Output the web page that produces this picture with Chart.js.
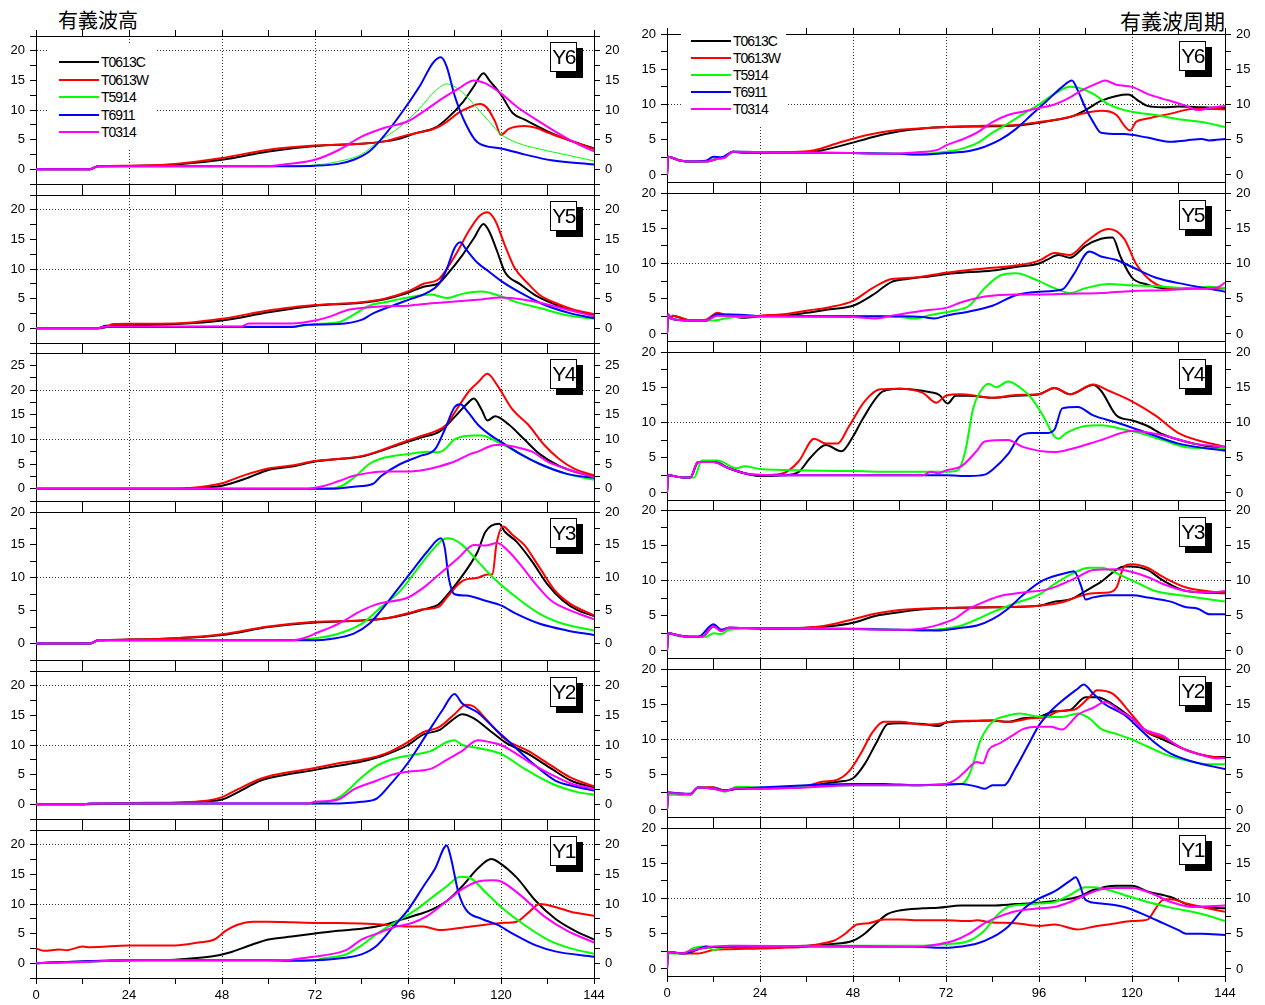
<!DOCTYPE html>
<html>
<head>
<meta charset="utf-8">
<script src="https://cdn.jsdelivr.net/npm/chart.js@4.4.1/dist/chart.umd.min.js"></script>
<style>
  body { margin: 0; background: #fff; width: 1265px; height: 1005px; position: relative; overflow: hidden;
         font-family: "Liberation Sans", Arial, sans-serif; }
  canvas { position: absolute; }
  .title { position: absolute; top: 8px; font-family: "Noto Sans CJK JP", sans-serif; font-size: 20px; line-height: 24px; color: #000; }
  .legend { position: absolute; background: #fff; }
  .legend .ln { position: absolute; height: 2px; width: 40px; }
  .legend .tx { position: absolute; font-size: 14px; letter-spacing: -1px; line-height: 16px; color: #000; }
  .tag { position: absolute; box-sizing: border-box; width: 27px; height: 30px; border: 1px solid #000; background: #fff;
         box-shadow: 6px 6px 0 #000; font-size: 21px; letter-spacing: -1.5px; line-height: 28px; text-align: center; color: #000; }
</style>
</head>
<body>
<div class="title" style="left:58px">有義波高</div>
<div class="title" style="right:40px;font-size:21px">有義波周期</div>
<script>
const seriesNames = ['T0613C', 'T0613W', 'T5914', 'T6911', 'T0314'];
const seriesColors = ['#000000', '#ff0000', '#00ff00', '#0000ff', '#ff00ff'];
const panelTags = ['Y6', 'Y5', 'Y4', 'Y3', 'Y2', 'Y1'];

// significant wave height [hour, m]
const hY6_C = [[0,0],[14,0],[16,0.5],[24,0.55],[36,0.8],[48,1.6],[60,3.0],[72,3.9],[84,4.3],[90,4.7],[94,5.2],[98,6.1],[103,7.0],[106,8.5],[110,11.2],[113,14],[115.5,16.2],[117,15],[120,12.6],[123,9.5],[126,8.4],[132,6.4],[138,4.8],[144,3.5]];
const hY6_W = [[0,0],[14,0],[16,0.5],[24,0.6],[36,0.9],[48,1.9],[60,3.3],[72,4.0],[84,4.3],[90,4.7],[96,5.8],[103,6.9],[106,8.0],[109,9.5],[112,10.5],[114.5,11.0],[116.5,10.3],[118.5,8.0],[120,5.8],[122,6.8],[126,7.3],[129,7.0],[132,6.2],[138,4.8],[144,3.4]];
const hY6_5914 = [[0,0],[14,0],[16,0.5],[36,0.5],[60,0.5],[72,0.7],[78,1.3],[84,2.5],[88,4.5],[94,7.2],[99,10.3],[103,13.2],[106,14.4],[110,13.0],[114,10.2],[117,8.0],[120,5.9],[124,4.5],[130,3.4],[137,2.4],[144,1.4]];
const hY6_6911 = [[0,0],[14,0],[16,0.5],[60,0.5],[72,0.6],[78,0.9],[82,1.6],[86,3.0],[89,5.0],[94,9.2],[99,14],[102.5,18],[104.5,18.9],[106,17.3],[108,12.5],[111,7.5],[114,4.5],[120,3.5],[126,2.5],[133,1.5],[144,0.8]];
const hY6_0314 = [[0,0],[14,0],[16,0.5],[60,0.5],[64,0.8],[72,1.6],[78,3.2],[84,5.5],[90,7.0],[96,8.1],[101,10.2],[105,12.0],[109,13.6],[113,15.0],[116,14.5],[120,12.8],[124,10.6],[130,8.0],[136,5.6],[140,4.2],[144,3.0]];

const hY5_C = [[0,0],[16,0],[18,0.4],[24,0.5],[36,0.7],[48,1.3],[60,2.7],[66,3.3],[72,3.8],[84,4.3],[90,4.9],[96,6.0],[100,7.0],[104,7.6],[106,9.0],[110,12.3],[113,15.2],[115.5,17.6],[117,16.3],[119,13],[121,9.5],[125,7.4],[129,5.5],[134,4.0],[138,3.1],[144,2.2]];
const hY5_W = [[0,0],[17,0],[20,0.7],[24,0.75],[36,0.8],[48,1.6],[60,3.0],[66,3.5],[72,3.9],[84,4.4],[90,5.0],[96,6.2],[100,7.5],[104,8.3],[106,10],[109,13.2],[111.5,16.2],[114.5,19.0],[116.5,19.6],[118.5,18.2],[121,14],[123.5,10.2],[127,7.5],[130,5.6],[135,4.0],[139,3.1],[144,2.4]];
const hY5_5914 = [[0,0],[16,0],[18,0.2],[66,0.3],[72,0.7],[78,1.0],[82,2.3],[86,3.8],[90,4.4],[96,5.2],[100,5.6],[102,5.7],[106,5.1],[110,5.8],[115,6.2],[120,5.4],[124,4.4],[130,3.4],[137,2.2],[144,1.6]];
const hY5_6911 = [[0,0],[16,0],[18,0.2],[66,0.2],[70,0.6],[78,0.7],[84,1.4],[87,2.5],[92,3.8],[97,5.0],[101,6.0],[104,7.5],[106,10],[108,13.5],[109.5,14.5],[111,13.3],[114,11],[117,9.5],[120,8.0],[125,6.0],[131,4.0],[138,2.5],[144,1.7]];
const hY5_0314 = [[0,0],[16,0],[18,0.3],[53,0.3],[55,0.8],[66,0.8],[72,1.3],[76,2.0],[80,3.0],[84,3.4],[90,3.7],[96,3.8],[102,4.2],[110,4.6],[114,4.8],[120,5.2],[126,4.8],[132,4.0],[138,3.0],[144,2.0]];

const hY4_C = [[0,0],[36,0],[44,0.3],[48,0.6],[54,2.0],[60,3.8],[66,4.5],[72,5.5],[78,6.0],[84,6.5],[88,7.4],[94,9.0],[100,10.5],[104,11.5],[108,14.5],[111,17.0],[113,18.3],[115,16.0],[116.5,13.8],[118.5,14.7],[122,13.0],[126,10.0],[130,7.0],[135,4.6],[140,3.2],[144,2.5]];
const hY4_W = [[0,0],[36,0],[42,0.3],[48,1.1],[54,2.8],[60,4.1],[66,4.7],[72,5.6],[78,6.0],[84,6.6],[88,7.5],[94,9.2],[99,10.6],[103,11.6],[106,13],[108.5,16],[112,20],[114,21.5],[116.5,23.3],[119,21],[123,16],[127,13],[131,9],[135,6],[139,4],[144,2.7]];
const hY4_5914 = [[0,0],[72,0],[78,0.3],[82,2.2],[86,5.0],[90,6.3],[96,7.0],[101,7.5],[104,7.4],[105.5,8.0],[108,10],[113,10.8],[115,10.8],[119,9.5],[124,7.5],[130,5.0],[137,3.0],[144,1.8]];
const hY4_6911 = [[0,0],[76,0],[82,0.4],[87,1.0],[89,2.5],[94,5.0],[99,6.6],[103,8.0],[105.5,12],[108,16.5],[109.5,17.1],[111.5,15.5],[114,13],[117,11],[121,9],[125,7],[130,5],[137,3],[144,2.2]];
const hY4_0314 = [[0,0],[70,0],[74,0.5],[78,1.5],[82,2.6],[86,3.2],[90,3.5],[96,3.5],[100,3.8],[104,4.5],[108,5.5],[112,7.0],[114,7.5],[118,8.8],[120,8.9],[124,8.4],[128,7.5],[132,5.5],[137,4.0],[144,2.3]];

const hY3_C = [[0,0],[14,0],[16,0.5],[24,0.6],[36,0.8],[48,1.3],[60,2.5],[72,3.2],[84,3.5],[90,3.8],[96,4.5],[100,5.2],[104,6.0],[106,7.3],[109,9.5],[112,12],[114,14],[116,17],[119.5,18.2],[121,17],[124,15.5],[128,12.5],[132,9],[136,6.5],[140,5],[144,4.2]];
const hY3_W = [[0,0],[14,0],[16,0.5],[24,0.6],[36,0.8],[48,1.4],[60,2.6],[72,3.3],[84,3.5],[90,3.8],[96,4.6],[100,5.2],[104,5.6],[106,7.0],[110,9.5],[114,10.0],[116.5,10.5],[117.8,10.5],[118.8,15],[120.5,17.8],[123,16.5],[126,15],[130,11.5],[134,8],[138,6],[144,4.3]];
const hY3_5914 = [[0,0],[14,0],[16,0.5],[66,0.5],[72,0.8],[78,1.5],[84,3],[89,5.5],[94,8],[98,11],[102,14],[105,15.8],[106.5,16],[110,15],[114,12.5],[118,10],[124,7],[130,4.5],[136,3],[144,2]];
const hY3_6911 = [[0,0],[14,0],[16,0.5],[72,0.5],[76,0.7],[82,1.5],[86,3],[89,5],[93,8],[97,11],[101,14],[104.5,16],[105.5,14.5],[106.5,10],[108,7.5],[111,7.3],[116,6.5],[120,5.8],[124,4.5],[130,3],[137,2],[144,1.3]];
const hY3_0314 = [[0,0],[14,0],[16,0.5],[66,0.5],[70,1.0],[72,1.5],[78,3],[84,5],[88,6],[96,7],[100,8.5],[104,10.5],[109,13],[113,15],[116,14.9],[119,15.3],[122,14],[125,12],[129,9],[133,6.5],[138,5],[144,3.7]];

const hY2_C = [[0,0],[12,0],[24,0.1],[36,0.2],[44,0.5],[48,0.8],[52,2.0],[58,4.0],[63,4.8],[72,5.8],[78,6.5],[84,7.2],[90,8.3],[96,10],[100,11.8],[104,12.5],[107,14],[110,15.2],[113,14.5],[117,12.5],[121,10.5],[127,8.5],[133,6],[138,4],[144,2.8]];
const hY2_W = [[0,0],[12,0],[24,0.2],[36,0.3],[44,0.6],[48,1.2],[52,2.5],[58,4.3],[62,5.0],[72,6.1],[78,6.9],[84,7.5],[90,8.5],[96,10.5],[100,12.2],[104,13],[108,15.2],[111,16.8],[113,16.5],[116,14.5],[121,11],[127,9],[133,6.5],[138,4.5],[144,3]];
const hY2_5914 = [[0,0],[12,0],[14,0.1],[72,0.1],[76,0.5],[79,1.5],[84,4.5],[88,6.5],[93,7.8],[97,8.3],[102,9],[106,10.5],[108,10.8],[110,10],[114,9.5],[120,8.5],[126,6],[133,3.5],[140,2],[144,1.6]];
const hY2_6911 = [[0,0],[12,0],[14,0.1],[76,0.1],[84,0.4],[88,1.0],[91,3],[96,7],[101,12],[105,16],[108,18.6],[110,17],[114,15.5],[118,13],[123,10],[128,7],[134,4],[139,3],[144,2.3]];
const hY2_0314 = [[0,0],[12,0],[14,0.1],[70,0.1],[72,0.4],[78,0.8],[82,2.5],[88,4],[92,5],[96,5.5],[102,6],[106,7.5],[110,9],[114,10.8],[117,10.5],[120,10],[124,8.5],[128,6.8],[133,5],[138,3.5],[144,2.6]];

const hY1_C = [[0,0],[12,0.3],[24,0.5],[36,0.6],[40,0.8],[46,1.2],[50,1.8],[56,3.2],[60,4],[66,4.5],[72,5],[78,5.5],[84,5.8],[90,6.5],[95,7.5],[99,8.3],[102,9],[106,10.5],[110,13],[114,16],[117.5,17.6],[119.5,17],[124,14.5],[129,10.5],[134,7.5],[139,5.5],[144,4]];
const hY1_W = [[0,2.5],[2,2.1],[6,2.3],[8,2.2],[12,2.8],[14,2.7],[24,3],[36,3],[42,3.5],[46,4],[49,5.5],[52,6.5],[56,7],[60,7],[66,6.9],[72,6.8],[78,6.8],[84,6.7],[90,6.5],[96,6.2],[100,6.2],[104,5.6],[110,6],[116,6.5],[120,6.8],[124,7],[127,8.5],[130,10],[134,9.5],[138,8.7],[144,8]];
const hY1_5914 = [[0,0],[12,0.2],[24,0.5],[72,0.5],[74,0.8],[80,1.5],[84,3],[88,5],[93,7],[98,9],[102,11],[106,13],[109.5,14.6],[112,14.4],[116,12],[120,9.5],[126,6.5],[132,4],[138,2.5],[144,1.6]];
const hY1_6911 = [[0,0],[12,0.3],[24,0.5],[60,0.5],[66,0.4],[72,0.5],[78,0.8],[84,1.5],[88,3],[92,6],[96,9],[100,13],[103,16],[106,19.9],[107,18],[109,12],[111,9],[115,7.5],[119,6.5],[123,5],[129,3],[134,2],[144,1.1]];
const hY1_0314 = [[0,0],[12,0.2],[24,0.5],[64,0.5],[68,0.8],[74,1.3],[80,2.2],[84,4],[88,5],[92,6],[97,6.8],[101,8],[106,10.5],[110,12.5],[114,13.8],[118,14],[120,13.8],[125,11.5],[131,8],[137,5.5],[144,3.5]];

// significant wave period [hour, s]
const tY6_C = [[0,0],[0.3,2.6],[3,2.1],[6,1.9],[10,1.9],[13,2.3],[15,2.5],[17,3.3],[20,3.2],[36,3.2],[40,3.5],[46,4.3],[54,5.5],[60,6.2],[66,6.6],[72,6.8],[84,6.9],[90,7.0],[96,7.4],[100,7.8],[104,8.2],[108,9.2],[112,10.5],[116,11.2],[119,11.4],[122,10.4],[124,9.8],[128,9.6],[132,9.7],[138,9.6],[144,9.5]];
const tY6_W = [[0,0],[0.3,2.6],[3,2.1],[6,1.9],[10,1.9],[13,2.3],[15,2.5],[17,3.3],[20,3.1],[30,3.2],[38,3.5],[44,4.5],[52,5.7],[60,6.4],[72,6.8],[84,7.0],[90,7.1],[96,7.5],[102,8.0],[108,8.8],[112,9.1],[116,8.5],[118,7.0],[119.5,6.3],[121,7.5],[124,8.0],[130,8.7],[136,9.4],[144,9.3]];
const tY6_5914 = [[0,0],[0.3,2.6],[3,2.1],[6,1.9],[10,1.9],[12,2.2],[14.5,2.4],[17,3.3],[30,3.2],[48,3.1],[60,3.0],[64,2.9],[72,3.3],[76,3.7],[80,4.5],[84,6.0],[88,7.3],[92,8.7],[96,10],[100,11.5],[104,12.5],[106,12.4],[110,11.5],[114,10],[118,9.2],[122,8.8],[126,8.5],[132,7.9],[138,7.5],[144,6.8]];
const tY6_6911 = [[0,0],[0.3,2.6],[3,2.1],[6,1.9],[10,2.0],[12,2.6],[14,2.5],[17,3.3],[30,3.2],[48,3.1],[60,3.0],[66,2.9],[72,3.1],[78,3.4],[82,4.0],[86,5.0],[90,6.5],[94,8.5],[98,10.5],[102,12.5],[104.5,13.4],[106,12],[108,9.5],[110,7.5],[112,6.0],[118,5.8],[124,5.3],[130,4.7],[134,4.9],[138,5.1],[140,4.9],[144,5.1]];
const tY6_0314 = [[0,0],[0.3,2.6],[3,2.1],[6,1.9],[10,1.9],[13,2.3],[15,2.5],[17,3.3],[30,3.2],[48,3.1],[56,3.0],[64,3.2],[70,3.6],[72,4.2],[76,5.0],[80,6.0],[84,7.5],[88,8.5],[92,9.0],[96,9.5],[100,10],[104,11],[107,12],[111,13],[113,13.4],[116,12.8],[120,12.5],[124,11.5],[128,10.8],[130,10.5],[134,9.8],[137,9.2],[140,9.5],[144,9.8]];

const tY5_C = [[0,0],[0.3,2.8],[1,2.2],[1.5,2.6],[4,2.2],[6,1.9],[10,1.9],[13,2.7],[15,2.6],[20,2.3],[24,2.5],[30,2.6],[36,3.0],[42,3.5],[48,4.0],[53,5.5],[58,7.4],[62,7.8],[68,8.2],[74,8.6],[84,9.0],[90,9.5],[96,10],[98,10.5],[101,11.2],[104,10.8],[108,12.5],[112,13.5],[115,13.7],[117,11],[120,8],[124,7],[128,6.5],[136,6.5],[144,6.5]];
const tY5_W = [[0,0],[0.3,2.8],[1,2.2],[1.5,2.6],[4,2.2],[6,1.9],[10,2.0],[13,3.0],[16,2.5],[20,2.4],[24,2.6],[30,2.8],[36,3.3],[42,3.8],[48,4.7],[53,6.5],[58,7.8],[64,8.0],[72,8.7],[82,9.3],[90,9.7],[96,10.4],[100,11.5],[104,11.2],[108,13],[112,14.6],[114,14.9],[118,13.5],[121,10],[125,7.5],[130,6.5],[144,6.5]];
const tY5_5914 = [[0,0],[0.3,2.8],[1,2.2],[6,1.9],[12,1.9],[15,2.2],[20,2.5],[48,2.5],[60,2.4],[64,2.2],[68,2.7],[74,3.3],[78,4.0],[82,6.5],[86,8.3],[90,8.6],[96,7.5],[100,6.5],[104,5.8],[108,6.5],[114,7.1],[120,6.9],[126,6.8],[134,6.5],[140,6.7],[144,6.5]];
const tY5_6911 = [[0,0],[0.3,2.8],[1,2.2],[6,1.9],[10,1.9],[13,2.8],[20,2.7],[24,2.5],[48,2.5],[60,2.5],[66,2.4],[69,2.2],[72,2.6],[78,3.2],[84,4.0],[90,5.5],[96,6.0],[102,6.3],[105,8.5],[109,11.7],[112,11],[116,10.5],[120,9.5],[126,8],[134,7],[144,6]];
const tY5_0314 = [[0,0],[0.3,2.8],[1,2.2],[6,1.9],[10,1.9],[13,2.6],[24,2.5],[48,2.4],[54,2.2],[58,2.6],[66,3.3],[72,3.7],[76,4.5],[82,5.3],[90,5.6],[96,5.6],[104,5.7],[112,5.8],[120,6.1],[128,6.2],[136,6.4],[142,6.6],[144,7.3]];

const tY4_C = [[0,0],[0.3,2.5],[4,2.2],[6,2.2],[8,4.3],[12,4.5],[16,3.5],[20,2.8],[24,2.4],[30,2.5],[34,3.0],[37,5.0],[41,6.8],[45,5.9],[48,8],[50.5,10.5],[55.7,14.4],[60,14.8],[68,14.3],[70.3,13.9],[72.4,12.7],[74.5,13.8],[78,13.8],[84,13.5],[90,13.8],[96,14],[100,14.9],[104,14],[110,15.3],[112,14.5],[116,11],[120,10.3],[124,9.5],[128,8.3],[136,7.0],[144,6.2]];
const tY4_W = [[0,0],[0.3,2.5],[4,2.2],[6,2.2],[8,4.4],[12,4.4],[16,3.5],[20,2.8],[24,2.5],[30,2.8],[34,4.5],[38,7.7],[41,7.0],[44,7.0],[47,9.5],[51,13],[55,14.7],[60,14.8],[66,14.2],[69.5,12.8],[72,13.8],[76,14.0],[84,13.5],[90,13.9],[96,14],[100,14.9],[104,14],[110,15.4],[114,14.5],[120,13],[126,11],[132,8.5],[144,6.5]];
const tY4_5914 = [[0,0],[0.3,2.5],[4,2.2],[7,2.2],[9,4.6],[13,4.6],[18,3.5],[20,3.8],[24,3.4],[36,3.2],[48,3.1],[60,3.0],[72,3.0],[75,3.2],[77,6],[79,12],[81,14.5],[83,15.5],[85,15],[88,15.8],[91,15],[94,13.5],[97,11],[100,8],[101,7.7],[103,8.5],[108,9.5],[112,9.6],[118,9.0],[122,8.5],[128,7.5],[134,6.5],[144,6.3]];
const tY4_6911 = [[0,0],[0.3,2.5],[4,2.2],[6,2.2],[8,4.4],[12,4.4],[16,3.5],[20,2.8],[24,2.5],[48,2.5],[72,2.5],[78,2.4],[82,2.6],[84,3.3],[88,5.5],[91,8],[94,8.5],[98,8.5],[100,9],[102,12],[106,12.2],[110,11],[116,10],[124,8.5],[132,7],[144,6]];
const tY4_0314 = [[0,0],[0.3,2.5],[4,2.2],[6,2.2],[8,4.4],[12,4.4],[16,3.5],[20,2.8],[24,2.6],[48,2.5],[66,2.5],[68,3.0],[70,2.8],[72,3.2],[76,3.8],[80,6],[82,7.3],[88,7.5],[92,6.5],[100,5.8],[104,6.2],[112,7.5],[120,8.8],[128,8.2],[136,7.0],[144,6.6]];

const tY3_C = [[0,0],[0.3,2.5],[3,2.2],[6,2.0],[9,2.0],[12,3.5],[14,2.9],[16,3.3],[24,3.2],[36,3.3],[42,3.5],[48,4.0],[54,5.0],[60,5.5],[66,5.9],[72,6.1],[84,6.2],[96,6.4],[100,7.0],[104,7.3],[108,8.5],[112,9.8],[118,12],[120,12],[124,11.5],[128,10],[134,8.5],[144,8.2]];
const tY3_W = [[0,0],[0.3,2.5],[3,2.2],[6,2.0],[9,2.0],[12,3.5],[14,2.9],[16,3.3],[24,3.2],[36,3.3],[40,3.5],[48,4.5],[54,5.3],[60,5.8],[72,6.1],[84,6.2],[96,6.4],[102,6.9],[106,7.7],[110,8.2],[114,8.3],[116,9],[118,12],[120,12.3],[124,11.8],[128,10.5],[134,9],[144,8.2]];
const tY3_5914 = [[0,0],[0.3,2.5],[3,2.1],[6,2.0],[10,2.0],[12,2.5],[14,2.4],[16,3.0],[24,3.2],[48,3.2],[60,3.0],[64,2.9],[72,3.2],[76,3.6],[80,4.5],[84,5.5],[90,6.8],[96,8],[100,9.5],[104,10.8],[109,11.8],[112,11.8],[118,10.5],[122,9.5],[126,8.5],[134,7.8],[144,7]];
const tY3_6911 = [[0,0],[0.3,2.5],[3,2.2],[6,2.0],[8,2.0],[12,3.8],[14,3.0],[16,3.3],[24,3.2],[48,3.1],[60,3.0],[70,2.9],[72,3.0],[76,3.3],[80,3.6],[84,4.5],[88,6],[92,8],[97,10],[104,11.2],[105,11.3],[107,9],[108,7.3],[110,7.6],[114,7.9],[120,7.9],[124,7.6],[130,7.0],[134,6.2],[137,6.0],[140,5.2],[144,5.2]];
const tY3_0314 = [[0,0],[0.3,2.5],[3,2.2],[6,2.0],[9,2.0],[12,3.5],[14,2.8],[16,3.3],[24,3.2],[48,3.1],[60,3.0],[66,3.2],[70,3.7],[74,4.5],[78,6.0],[82,7.0],[86,7.8],[92,8.3],[98,8.7],[102,9.5],[106,10.5],[110,11.5],[116,11.6],[120,11.2],[124,10.5],[128,9.5],[134,8.5],[140,8.3],[144,8.5]];

const tY2_C = [[0,0],[0.3,2.4],[4,2.3],[6,2.2],[8,3.2],[12,3.2],[15,2.7],[18,3.0],[24,3.1],[30,3.1],[36,3.3],[40,3.7],[44,4.0],[48,4.5],[51,6.5],[54,9.5],[57,12.2],[60,12.3],[66,12.2],[70,11.9],[72,12.4],[78,12.6],[84,12.7],[88,12.5],[92,13],[96,13.2],[100,14],[104,14.2],[108,16],[111,16],[115,15],[120,13],[124,11],[128,10],[134,8.5],[140,7.6],[144,7.5]];
const tY2_W = [[0,0],[0.3,2.4],[4,2.3],[6,2.2],[8,3.2],[12,3.2],[15,2.7],[18,3.0],[24,3.0],[30,3.1],[36,3.4],[40,4.0],[44,4.3],[47,5.5],[50,8],[53,11],[56,12.5],[60,12.5],[66,12.1],[70,12.2],[74,12.6],[84,12.7],[88,12.5],[94,13],[98,13.2],[101,14],[105,14.2],[109,16],[111,17],[115,16.5],[120,13.5],[124,11],[128,10.3],[134,8.5],[140,7.6],[144,7.4]];
const tY2_5914 = [[0,0],[0.3,2.2],[4,2.1],[6,2.1],[8,3.2],[12,3.0],[15,2.6],[18,3.3],[24,3.2],[36,3.3],[48,3.5],[60,3.5],[72,3.6],[76,3.7],[78,5.0],[81,10],[84,12.5],[88,13.4],[91,13.7],[95,13.3],[98,13.2],[102,13.2],[106,13.7],[109,13],[112,11.5],[116,10.8],[120,10],[124,9],[128,8],[134,7],[140,6.5],[144,6.5]];
const tY2_6911 = [[0,0],[0.3,2.5],[4,2.3],[6,2.3],[8,3.2],[12,3.0],[15,2.8],[18,3.0],[24,3.2],[36,3.5],[48,3.7],[56,3.7],[64,3.5],[72,3.6],[76,3.7],[80,3.3],[82,3.0],[84,3.5],[87,3.5],[90,6],[93,9],[96,12],[99,14],[102,15.5],[106,17.2],[107.5,17.8],[110,16.5],[113,15],[118,13.5],[122,11.5],[126,9.5],[130,8],[136,6.8],[144,5.8]];
const tY2_0314 = [[0,0],[0.3,2.4],[4,2.3],[6,2.2],[8,3.2],[12,3.0],[15,2.7],[18,3.1],[24,3.0],[36,3.2],[48,3.5],[60,3.5],[66,3.5],[72,3.7],[75,4.5],[77,5.5],[80,6.8],[81.5,6.6],[83,8.5],[86,9.5],[89,10.5],[92,11.5],[96,11.8],[99,11.8],[102,11.4],[104,12.3],[106,13.5],[110,14.5],[113,15.3],[117,14],[120,13],[123,11.5],[128,10.5],[132,9],[138,7.8],[142,7.3],[144,7.4]];

const tY1_C = [[0,0],[0.3,2.4],[4,2.2],[6,2.3],[8,2.8],[12,3.1],[18,3.2],[24,3.2],[36,3.3],[42,3.5],[48,4.0],[51,5.0],[54,6.5],[57,7.8],[60,8.3],[66,8.6],[70,8.7],[76,9.0],[84,9.0],[90,9.2],[96,9.4],[102,9.8],[106,10.2],[110,11.2],[116,11.8],[120,11.8],[124,11],[130,10.2],[134,9.2],[138,8.8],[144,8.6]];
const tY1_W = [[0,2.4],[2,2.3],[6,2.2],[8,2.2],[12,2.7],[16,2.8],[24,2.9],[30,3.0],[36,3.2],[40,3.6],[43,4.0],[46,5.0],[49,6.3],[52,6.5],[56,7.0],[60,7.0],[66,6.9],[72,6.9],[78,6.8],[80,6.9],[84,6.6],[90,6.5],[96,6.1],[100,6.3],[106,5.6],[110,6.0],[115,6.4],[120,6.8],[124,7.0],[126,8.5],[128,9.8],[130,9.9],[134,9.3],[138,8.8],[144,8.1]];
const tY1_5914 = [[0,0],[0.3,2.2],[4,2.2],[7,3.0],[10,3.2],[12,2.7],[16,3.3],[24,3.2],[48,3.3],[66,3.3],[72,3.5],[78,4.0],[82,5.5],[85,7.5],[88,8.8],[92,9.1],[96,9.3],[100,9.5],[104,10.5],[108,11.6],[110,11.6],[114,11.2],[118,10.5],[124,9.5],[130,8.7],[138,7.8],[144,6.8]];
const tY1_6911 = [[0,0],[0.3,2.4],[4,2.2],[8,2.8],[10,3.2],[12,3.1],[18,3.2],[48,3.2],[66,3.1],[72,3.0],[76,3.2],[80,3.6],[84,4.5],[88,6],[92,8.5],[96,10],[100,11],[104,12.5],[105.5,13],[106.5,12],[108,9.8],[112,9.3],[118,8.8],[124,7.5],[128,6.5],[132,5.5],[134,5.0],[138,5.0],[144,4.8]];
const tY1_0314 = [[0,0],[0.3,2.4],[4,2.2],[6,2.6],[10,3.0],[12,3.2],[18,3.3],[48,3.2],[60,3.1],[66,3.2],[70,3.5],[74,4.0],[78,5.0],[82,6.5],[86,7.5],[90,8.2],[96,8.6],[100,8.8],[104,9.5],[108,10.5],[112,11.3],[116,11.5],[120,11.5],[126,10.5],[130,9.5],[136,8.8],[144,9.0]];

const heightPanels = [
  { series: [hY6_C, hY6_W, hY6_5914, hY6_6911, hY6_0314], min: -2.5, max: 22.5, thin: true },
  { series: [hY5_C, hY5_W, hY5_5914, hY5_6911, hY5_0314], min: -2.5, max: 22.5 },
  { series: [hY4_C, hY4_W, hY4_5914, hY4_6911, hY4_0314], min: -2.5, max: 27.5 },
  { series: [hY3_C, hY3_W, hY3_5914, hY3_6911, hY3_0314], min: -2.5, max: 20 },
  { series: [hY2_C, hY2_W, hY2_5914, hY2_6911, hY2_0314], min: -2.5, max: 22.5 },
  { series: [hY1_C, hY1_W, hY1_5914, hY1_6911, hY1_0314], min: -2.5, max: 22.5 }
];
const periodPanels = [
  { series: [tY6_C, tY6_W, tY6_5914, tY6_6911, tY6_0314], min: -1, max: 20 },
  { series: [tY5_C, tY5_W, tY5_5914, tY5_6911, tY5_0314], min: -1, max: 20 },
  { series: [tY4_C, tY4_W, tY4_5914, tY4_6911, tY4_0314], min: -1, max: 20 },
  { series: [tY3_C, tY3_W, tY3_5914, tY3_6911, tY3_0314], min: -1, max: 20 },
  { series: [tY2_C, tY2_W, tY2_5914, tY2_6911, tY2_0314], min: -1, max: 20 },
  { series: [tY1_C, tY1_W, tY1_5914, tY1_6911, tY1_0314], min: -1, max: 20 }
];

Chart.defaults.font.family = '"Liberation Sans", Arial, sans-serif';
Chart.defaults.font.size = 13;
Chart.defaults.color = '#000';

const plotW = 558, plotH = 148;
const leftX = 36, rightX = 667;
const leftTops = [36, 195, 353, 512, 671, 830];
const rightTops = [34, 193, 352, 510, 669, 828];
const GRID = '#333', NONE = 'rgba(0,0,0,0)';

// fixed axis sizes, no extra label padding, so the plot box lands exactly
function noPad(s) {
  s.paddingTop = 0; s.paddingBottom = 0; s.paddingLeft = 0; s.paddingRight = 0;
}

function xAxis(pos, labels) {
  return {
    type: 'linear', position: pos, min: 0, max: 144,
    afterFit: s => { s.height = pos === 'top' ? 0 : (labels ? 30 : 8); noPad(s); },
    ticks: {
      stepSize: 12, maxTicksLimit: 100, autoSkip: false, maxRotation: 0, includeBounds: false, padding: 4,
      callback: v => (labels && v % 24 === 0) ? String(v) : ''
    },
    grid: {
      drawOnChartArea: pos === 'bottom', tickLength: 6, tickColor: '#000', lineWidth: 1,
      color: ctx => (ctx.tick && ctx.tick.value % 24 === 0 && ctx.tick.value > 0 && ctx.tick.value < 144) ? GRID : NONE
    },
    border: { display: true, color: '#000', width: 1, dash: [1, 2] }
  };
}

function yAxis(pos, p) {
  return {
    type: 'linear', position: pos, min: p.min, max: p.max,
    afterFit: s => { s.width = 40; noPad(s); },
    ticks: {
      stepSize: 2.5, maxTicksLimit: 100, autoSkip: false, includeBounds: false, padding: 5,
      callback: v => (v >= 0 && v % 5 === 0) ? String(v) : ''
    },
    grid: {
      drawOnChartArea: pos === 'left', tickLength: 6, tickColor: '#000', lineWidth: 1,
      color: ctx => (ctx.tick && (ctx.tick.value === 10 || ctx.tick.value === 20)) ? GRID : NONE
    },
    border: { display: true, color: '#000', width: 1, dash: [1, 2] }
  };
}

function makePanel(p, x0, y0, bottom) {
  const padT = 12, padL = 40, padR = 40, padB = bottom ? 30 : 8;
  const w = plotW + padL + padR, h = plotH + padT + padB;
  const c = document.createElement('canvas');
  c.width = w; c.height = h;
  c.style.left = (x0 - padL) + 'px'; c.style.top = (y0 - padT) + 'px';
  c.style.width = w + 'px'; c.style.height = h + 'px';
  document.body.appendChild(c);
  new Chart(c, {
    type: 'line',
    data: {
      datasets: p.series.map((d, i) => ({
        label: seriesNames[i], data: d, borderColor: seriesColors[i],
        borderWidth: (p.thin && i === 2) ? 1 : 2, pointRadius: 0, fill: false,
        cubicInterpolationMode: 'monotone', order: 4 - i
      }))
    },
    options: {
      responsive: false, animation: false, events: [],
      layout: { padding: { top: padT, left: 0, right: 0, bottom: 0 } },
      plugins: { legend: { display: false }, tooltip: { enabled: false } },
      scales: { x: xAxis('bottom', bottom), x2: xAxis('top', false), y: yAxis('left', p), y2: yAxis('right', p) }
    }
  });
}

heightPanels.forEach((p, r) => makePanel(p, leftX, leftTops[r], r === 5));
periodPanels.forEach((p, r) => makePanel(p, rightX, rightTops[r], r === 5));

function addTag(text, x, y) {
  const d = document.createElement('div');
  d.className = 'tag'; d.textContent = text;
  d.style.left = x + 'px'; d.style.top = y + 'px';
  document.body.appendChild(d);
}
panelTags.forEach((t, r) => {
  addTag(t, 550, leftTops[r] + 6);
  addTag(t, 1179, rightTops[r] + 7);
});

function addLegend(x, y, w, h, lineX, textX, rowY, rowStep) {
  const box = document.createElement('div');
  box.className = 'legend';
  Object.assign(box.style, { left: x + 'px', top: y + 'px', width: w + 'px', height: h + 'px' });
  seriesNames.forEach((n, i) => {
    const cy = rowY + rowStep * i;
    const ln = document.createElement('div');
    ln.className = 'ln';
    Object.assign(ln.style, { left: lineX + 'px', top: (cy - 1) + 'px', background: seriesColors[i] });
    const tx = document.createElement('div');
    tx.className = 'tx'; tx.textContent = n;
    Object.assign(tx.style, { left: textX + 'px', top: (cy - 8) + 'px' });
    box.appendChild(ln); box.appendChild(tx);
  });
  document.body.appendChild(box);
}
addLegend(47, 44, 109, 105, 12, 54, 18, 17.5);
addLegend(681, 28, 105, 99, 10, 52, 13, 17);
</script>
</body>
</html>
